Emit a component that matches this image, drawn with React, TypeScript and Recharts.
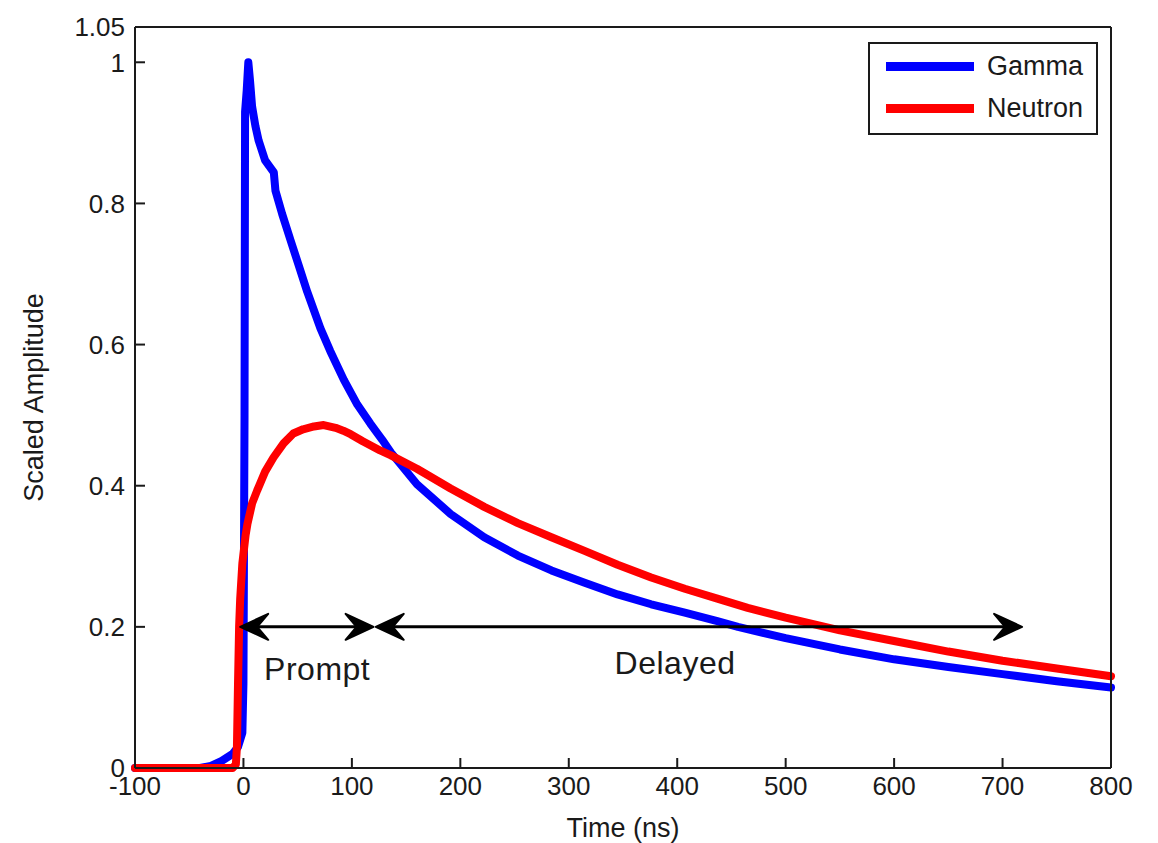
import { Legend, Line, LineChart, ReferenceDot, ReferenceLine, XAxis, YAxis } from 'recharts'

const FONT = '"Liberation Sans", Arial, sans-serif'
const INK = '#1a1a1a'

// time axis (ns) and scaled amplitude
const gammaTime = [
    -100, -40, -30, -20, -10, -5, -1, 0, 1, 1.5, 3, 4.5, 6, 8, 11, 14, 20, 28, 29.5, 35.7, 43.4, 51, 58.8, 71, 80,
    92.6, 105, 117, 128, 136, 160, 191, 222, 253, 284, 314, 345, 376, 407, 437, 456, 500, 550, 600, 650, 700, 750,
    800,
]
const gammaAmp = [
    0, 0, 0.003, 0.01, 0.02, 0.03, 0.05, 0.12, 0.5, 0.93, 0.96, 1.0, 0.975, 0.937, 0.91, 0.889, 0.861, 0.844, 0.818,
    0.785, 0.748, 0.712, 0.675, 0.623, 0.591, 0.55, 0.515, 0.488, 0.465, 0.447, 0.402, 0.36, 0.327, 0.301, 0.28,
    0.263, 0.246, 0.232, 0.22, 0.208, 0.2, 0.184, 0.168, 0.154, 0.143, 0.133, 0.123, 0.114,
]
const neutronTime = [
    -100, -10, -7, -6, -5, -4, -3, -1, 2, 3.7, 8, 12.6, 20, 27.7, 37, 46, 55, 65, 74, 85, 92, 98.8, 110, 126, 136,
    160, 191, 222, 253, 284, 314, 345, 376, 407, 437, 465, 500, 550, 600, 650, 700, 750, 800,
]
const neutronAmp = [
    0, 0, 0.005, 0.03, 0.12, 0.2, 0.24, 0.29, 0.33, 0.346, 0.375, 0.393, 0.42, 0.44, 0.46, 0.474, 0.48, 0.484, 0.486,
    0.482, 0.478, 0.473, 0.463, 0.45, 0.443, 0.424, 0.396, 0.37, 0.347, 0.327, 0.308, 0.288, 0.27, 0.254, 0.24,
    0.227, 0.213, 0.195, 0.18, 0.165, 0.152, 0.141, 0.13,
]

const timeTicks = [-100, 0, 100, 200, 300, 400, 500, 600, 700, 800]
const ampTicks = [0, 0.2, 0.4, 0.6, 0.8, 1, 1.05]

const seriesNames = ['Gamma', 'Neutron']
const seriesColors = ['#0000ff', '#ff0000']

// prompt / delayed windows drawn as double arrows
const arrowStarts = [-3, 122]
const arrowEnds = [120, 718]
const arrowLevel = 0.2
const regionNames = ['Prompt', 'Delayed']
const regionTime = [68, 398]
const regionAmp = [0.141, 0.15]

const gammaData = gammaTime.map((t, i) => ({ time: t, amp: gammaAmp[i] }))
const neutronData = neutronTime.map((t, i) => ({ time: t, amp: neutronAmp[i] }))
const seriesData = [gammaData, neutronData]

const tickStyle = { fill: INK, fontSize: 26, fontFamily: FONT }

function head(tipX: number, y: number, dir: number) {
    const L = 28
    const W = 13
    const notch = 17
    return `M${tipX},${y} L${tipX + dir * L},${y - W} L${tipX + dir * notch},${y} L${tipX + dir * L},${y + W} Z`
}

function DoubleArrow(props: any) {
    const { x1, y1, x2 } = props
    return (
        <g>
            <line x1={x1 + 10} y1={y1} x2={x2 - 10} y2={y1} stroke="#000" strokeWidth={3} />
            <path d={head(x1, y1, 1)} fill="#000" stroke="#000" strokeWidth={2} strokeLinejoin="round" />
            <path d={head(x2, y1, -1)} fill="#000" stroke="#000" strokeWidth={2} strokeLinejoin="round" />
        </g>
    )
}

function LegendBox() {
    return (
        <div
            style={{
                width: 226,
                height: 89,
                border: `2px solid ${INK}`,
                background: '#fff',
                position: 'relative',
                fontFamily: FONT,
            }}
        >
            {seriesNames.map((name, i) => (
                <div
                    key={name}
                    style={{
                        position: 'absolute',
                        left: 16,
                        top: 6 + i * 42,
                        height: 32,
                        display: 'flex',
                        alignItems: 'center',
                    }}
                >
                    <div style={{ width: 88, height: 9, background: seriesColors[i] }} />
                    <span style={{ marginLeft: 13, fontSize: 27, color: INK, lineHeight: '32px' }}>{name}</span>
                </div>
            ))}
        </div>
    )
}

export default function App() {
    return (
        <div style={{ width: 1150, height: 835, background: '#fff' }}>
            <LineChart width={1150} height={835} margin={{ top: 0, right: 0, bottom: 0, left: 0 }}>
                <XAxis
                    dataKey="time"
                    type="number"
                    domain={[-100, 800]}
                    ticks={timeTicks}
                    allowDuplicatedCategory={false}
                    height={75}
                    tickSize={-10}
                    tickMargin={19}
                    tick={tickStyle}
                    stroke={INK}
                    strokeWidth={2}
                    label={{
                        value: 'Time (ns)',
                        position: 'insideBottom',
                        offset: 6,
                        style: { fill: INK, fontSize: 27, fontFamily: FONT },
                    }}
                />
                <XAxis
                    xAxisId="top"
                    orientation="top"
                    type="number"
                    domain={[-100, 800]}
                    ticks={timeTicks}
                    height={19}
                    tickSize={-10}
                    tickFormatter={() => ''}
                    stroke={INK}
                    strokeWidth={2}
                />
                <YAxis
                    type="number"
                    domain={[0, 1.05]}
                    ticks={ampTicks}
                    width={127}
                    tickSize={-10}
                    tickMargin={20}
                    tick={tickStyle}
                    stroke={INK}
                    strokeWidth={2}
                    label={{
                        value: 'Scaled Amplitude',
                        angle: -90,
                        position: 'insideLeft',
                        offset: 25,
                        style: { textAnchor: 'middle', fill: INK, fontSize: 27, fontFamily: FONT },
                    }}
                />
                <YAxis
                    yAxisId="right"
                    orientation="right"
                    type="number"
                    domain={[0, 1.05]}
                    ticks={ampTicks}
                    width={47}
                    tickSize={-10}
                    tickFormatter={() => ''}
                    stroke={INK}
                    strokeWidth={2}
                />
                {seriesNames.map((name, i) => (
                    <Line
                        key={name}
                        name={name}
                        data={seriesData[i]}
                        dataKey="amp"
                        type="linear"
                        stroke={seriesColors[i]}
                        strokeWidth={8}
                        strokeLinejoin="round"
                        strokeLinecap="round"
                        dot={false}
                        activeDot={false}
                        isAnimationActive={false}
                    />
                ))}
                {arrowStarts.map((start, i) => (
                    <ReferenceLine
                        key={`arrow-${i}`}
                        segment={[
                            { x: start, y: arrowLevel },
                            { x: arrowEnds[i], y: arrowLevel },
                        ]}
                        shape={DoubleArrow}
                    />
                ))}
                {regionNames.map((name, i) => (
                    <ReferenceDot
                        key={name}
                        x={regionTime[i]}
                        y={regionAmp[i]}
                        r={0}
                        fill="none"
                        stroke="none"
                        label={{
                            value: name,
                            position: 'center',
                            style: { fill: INK, fontSize: 32, fontFamily: FONT, letterSpacing: 0.5 },
                        }}
                    />
                ))}
                <Legend
                    layout="vertical"
                    align="center"
                    verticalAlign="middle"
                    content={() => <LegendBox />}
                    wrapperStyle={{ top: 34, left: 860, width: 230, height: 93 }}
                />
            </LineChart>
        </div>
    )
}
